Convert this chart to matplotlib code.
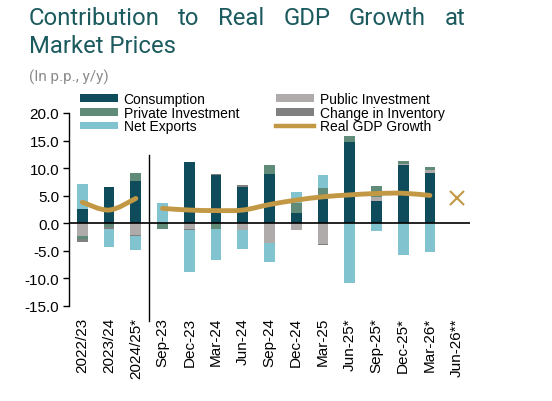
import numpy as np
import matplotlib
matplotlib.use("Agg")
import matplotlib.pyplot as plt
from matplotlib.path import Path
from matplotlib.patches import PathPatch, Patch
from matplotlib.lines import Line2D

categories = ["2022/23", "2023/24", "2024/25*", "Sep-23", "Dec-23", "Mar-24", "Jun-24",
              "Sep-24", "Dec-24", "Mar-25", "Jun-25*", "Sep-25*", "Dec-25*", "Mar-26*", "Jun-26**"]
consumption = [2.6, 6.5, 7.6, 0.0, 11.1, 8.8, 6.5, 9.0, 1.8, 4.4, 14.8, 4.1, 10.6, 9.2, 0.0]
public_inv = [-2.3, 0.0, -2.1, 0.0, -1.1, 0.0, -1.2, -3.5, -1.3, -3.7, 0.0, 0.7, 0.2, 0.4, 0.0]
private_inv = [-0.5, -0.6, 1.6, -1.1, 0.0, -1.1, 0.0, 1.6, 1.9, 2.0, 1.1, 1.9, 0.5, 0.6, 0.0]
inventory = [-0.6, -0.5, -0.2, 0.0, -0.2, 0.2, 0.5, 0.0, 0.0, -0.2, 0.0, 0.0, 0.0, 0.0, 0.0]
net_exports = [4.6, -3.2, -2.5, 3.7, -7.5, -5.6, -3.4, -3.5, 1.9, 2.3, -10.9, -1.4, -5.8, -5.2, 0.0]
gdp_annual = [3.8, 2.4, 4.5]
gdp_quarterly = [2.7, 2.4, 2.3, 2.4, 3.4, 4.2, 4.8, 5.15, 5.4, 5.45, 5.05]
gdp_forecast = [4.6]
yticks = [20, 15, 10, 5, 0, -5, -10, -15]

series = [
    ("Consumption", consumption, "#0E4C5C"),
    ("Public Investment", public_inv, "#B0ABAB"),
    ("Private Investment", private_inv, "#5F8B78"),
    ("Change in Inventory", inventory, "#808080"),
    ("Net Exports", net_exports, "#82C3D0"),
]
GOLD = "#C39845"
TEAL = "#1B5A5E"

W, H = 552, 402
fig = plt.figure(figsize=(W / 100, H / 100), dpi=100)
plt.rcParams['font.family'] = ['Liberation Sans', 'DejaVu Sans']

def fx(px):
    return px / W

def fy(py):
    return 1 - py / H

ax = fig.add_axes([fx(69), fy(307), fx(470) - fx(69), fy(114) - fy(307)])

x = np.arange(len(categories))
pos_base = np.zeros(len(categories))
neg_base = np.zeros(len(categories))
handles = {}
for name, vals, col in series:
    v = np.array(vals)
    pos = np.where(v > 0, v, 0)
    neg = np.where(v < 0, v, 0)
    ax.bar(x, pos, 0.4, bottom=pos_base, color=col, linewidth=0)
    ax.bar(x, neg, 0.4, bottom=neg_base, color=col, linewidth=0)
    pos_base += pos
    neg_base += neg
    handles[name] = Patch(facecolor=col, edgecolor='none')


def smooth_path(xs, ys):
    pts = np.column_stack([xs, ys]).astype(float)
    n = len(pts)
    verts = [pts[0]]
    codes = [Path.MOVETO]
    for i in range(n - 1):
        p0 = pts[i - 1] if i > 0 else pts[i]
        p1 = pts[i]
        p2 = pts[i + 1]
        p3 = pts[i + 2] if i + 2 < n else pts[i + 1]
        c1 = p1 + (p2 - p0) / 6.0
        c2 = p2 - (p3 - p1) / 6.0
        verts += [c1, c2, p2]
        codes += [Path.CURVE4] * 3
    return Path(verts, codes)

ax.add_patch(PathPatch(smooth_path(x[:3], gdp_annual), fill=False, edgecolor=GOLD,
                       linewidth=3.5, capstyle='round', joinstyle='round', zorder=4))
ax.add_patch(PathPatch(smooth_path(x[3:14], gdp_quarterly), fill=False, edgecolor=GOLD,
                       linewidth=3.5, capstyle='round', joinstyle='round', zorder=4))
ax.plot(x[14:], gdp_forecast, linestyle='none', marker='x', markersize=10,
        markeredgewidth=1.5, color=GOLD, zorder=4)

ax.axhline(0, color='black', linewidth=1.2, zorder=5)
ax.plot([2.5, 2.5], [12.3, -17.7], color='black', linewidth=1.0, clip_on=False, zorder=5)

ax.set_xlim(-0.5, 14.5)
ax.set_ylim(-15, 20)
ax.set_yticks(yticks)
ax.set_yticklabels([f"{t:.1f}" for t in yticks], fontsize=11)
ax.set_xticks(x)
ax.set_xticklabels(categories, rotation=90, fontsize=11)
ax.tick_params(axis='x', length=0, pad=8)
ax.tick_params(axis='y', length=4, width=1, direction='out', pad=3)
for s in ['top', 'right', 'bottom']:
    ax.spines[s].set_visible(False)
ax.spines['left'].set_linewidth(1.0)
ax.patch.set_alpha(0)

gdp_handle = Line2D([], [], color=GOLD, linewidth=3.2)
leg_kw = dict(frameon=False, fontsize=10, handlelength=2.75, handleheight=0.5,
              handletextpad=0.4, labelspacing=-0.02, borderpad=0, borderaxespad=0, loc='upper left')
l1 = fig.legend([handles["Consumption"], handles["Private Investment"], handles["Net Exports"]],
                ["Consumption", "Private Investment", "Net Exports"],
                bbox_to_anchor=(fx(80), fy(93)), **leg_kw)
l2 = fig.legend([handles["Public Investment"], handles["Change in Inventory"], gdp_handle],
                ["Public Investment", "Change in Inventory", "Real GDP Growth"],
                bbox_to_anchor=(fx(276), fy(93)), **leg_kw)

# Title (justified first line)
renderer = fig.canvas.get_renderer()
words = ["Contribution", "to", "Real", "GDP", "Growth", "at"]
tkw = dict(fontsize=17.2, color=TEAL, family=['Roboto', 'DejaVu Sans'], va='baseline', ha='left')
objs = [fig.text(0, fy(25), w, **tkw) for w in words]
widths = [o.get_window_extent(renderer).width for o in objs]
left, right = 29, 465
gap = (right - left - sum(widths)) / (len(words) - 1)
cur = left
for o, w in zip(objs, widths):
    o.set_x(fx(cur))
    cur += w + gap
fig.text(fx(29), fy(53), "Market Prices", **tkw)
fig.text(fx(29), fy(82), "(In p.p., y/y)", fontsize=11, color="#8A8A8A",
         family=['Roboto', 'DejaVu Sans'], va='baseline', ha='left')

fig.savefig("out.png", dpi=100)
